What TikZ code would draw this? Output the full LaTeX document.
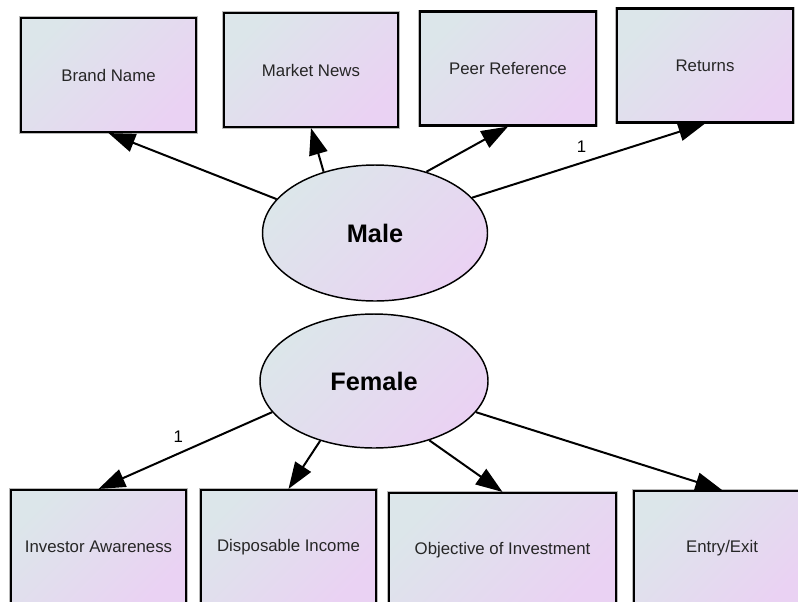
\documentclass[tikz,border=0pt]{standalone}
\usepackage{fontspec}
\setmainfont{Liberation Sans}
\usetikzlibrary{arrows.meta, shapes.geometric}
\definecolor{fillA}{HTML}{DCE6EA}
\definecolor{fillB}{HTML}{EAD2F3}
\tikzset{
    indicator/.style = {rectangle, draw = black, line width = 1.6pt,
        preaction = {draw = gray!55, line width = 2.7pt},
        top color = fillA, bottom color = fillB, shading angle = 45,
        minimum height = 85.5pt, inner sep = 0pt,
        font = \fontsize{12.6}{15}\selectfont, text = black!85},
    latent/.style = {ellipse, draw = black, line width = 1.1pt,
        top color = fillA, bottom color = fillB, shading angle = 45,
        inner sep = 0pt, font = \fontsize{19}{22}\selectfont\bfseries},
    link/.style = {-{Triangle[length = 20pt, width = 14pt]}, line width = 1.5pt},
}

\begin{document}
\begin{tikzpicture}[x = 0.75pt, y = -0.75pt]
    \useasboundingbox (0, 0) rectangle (798, 601);
    \clip (0, 0) rectangle (798, 601);

    \node[latent, minimum width = 168.75pt, minimum height = 102pt] (male) at (375, 233) {Male};
    \node[latent, minimum width = 171pt, minimum height = 100.5pt] (female) at (374, 381) {Female};

    \node[indicator, minimum width = 131.25pt] (brand) at (108.5, 75) {Brand Name};
    \node[indicator, minimum width = 130.5pt] (news) at (311, 70) {Market News};
    \node[indicator, minimum width = 132pt] (peer) at (508, 68.5) {Peer Reference};
    \node[indicator, minimum width = 132pt] (returns) at (705, 65.5) {Returns};

    \node[indicator, minimum width = 131.25pt] (awareness) at (98.5, 547) {Investor Awareness};
    \node[indicator, minimum width = 131.25pt] (income) at (288.5, 547) {Disposable Income};
    \node[indicator, minimum width = 170.25pt] (objective) at (502.5, 550) {Objective of Investment};
    \node[indicator, minimum width = 132pt] (entry) at (722, 548) {Entry/Exit};

    % male
    \draw[link] (male.161) -- (brand.south);
    \draw[link] (male.130) -- (news.south);
    \draw[link] (male.50) -- (peer.south);
    \draw[link] (male.20) -- node[pos = .47, above = 4pt, font = \fontsize{12.6}{15}\selectfont] {1} (returns.south);

    % female
    \draw[link] (female.197) -- node[pos = .54, above = 4pt, font = \fontsize{12.6}{15}\selectfont] {1} (awareness.north);
    \draw[link] (female.228) -- (income.north);
    \draw[link] (female.313) -- (objective.north);
    \draw[link] (female.343) -- (entry.north);
\end{tikzpicture}
\end{document}
